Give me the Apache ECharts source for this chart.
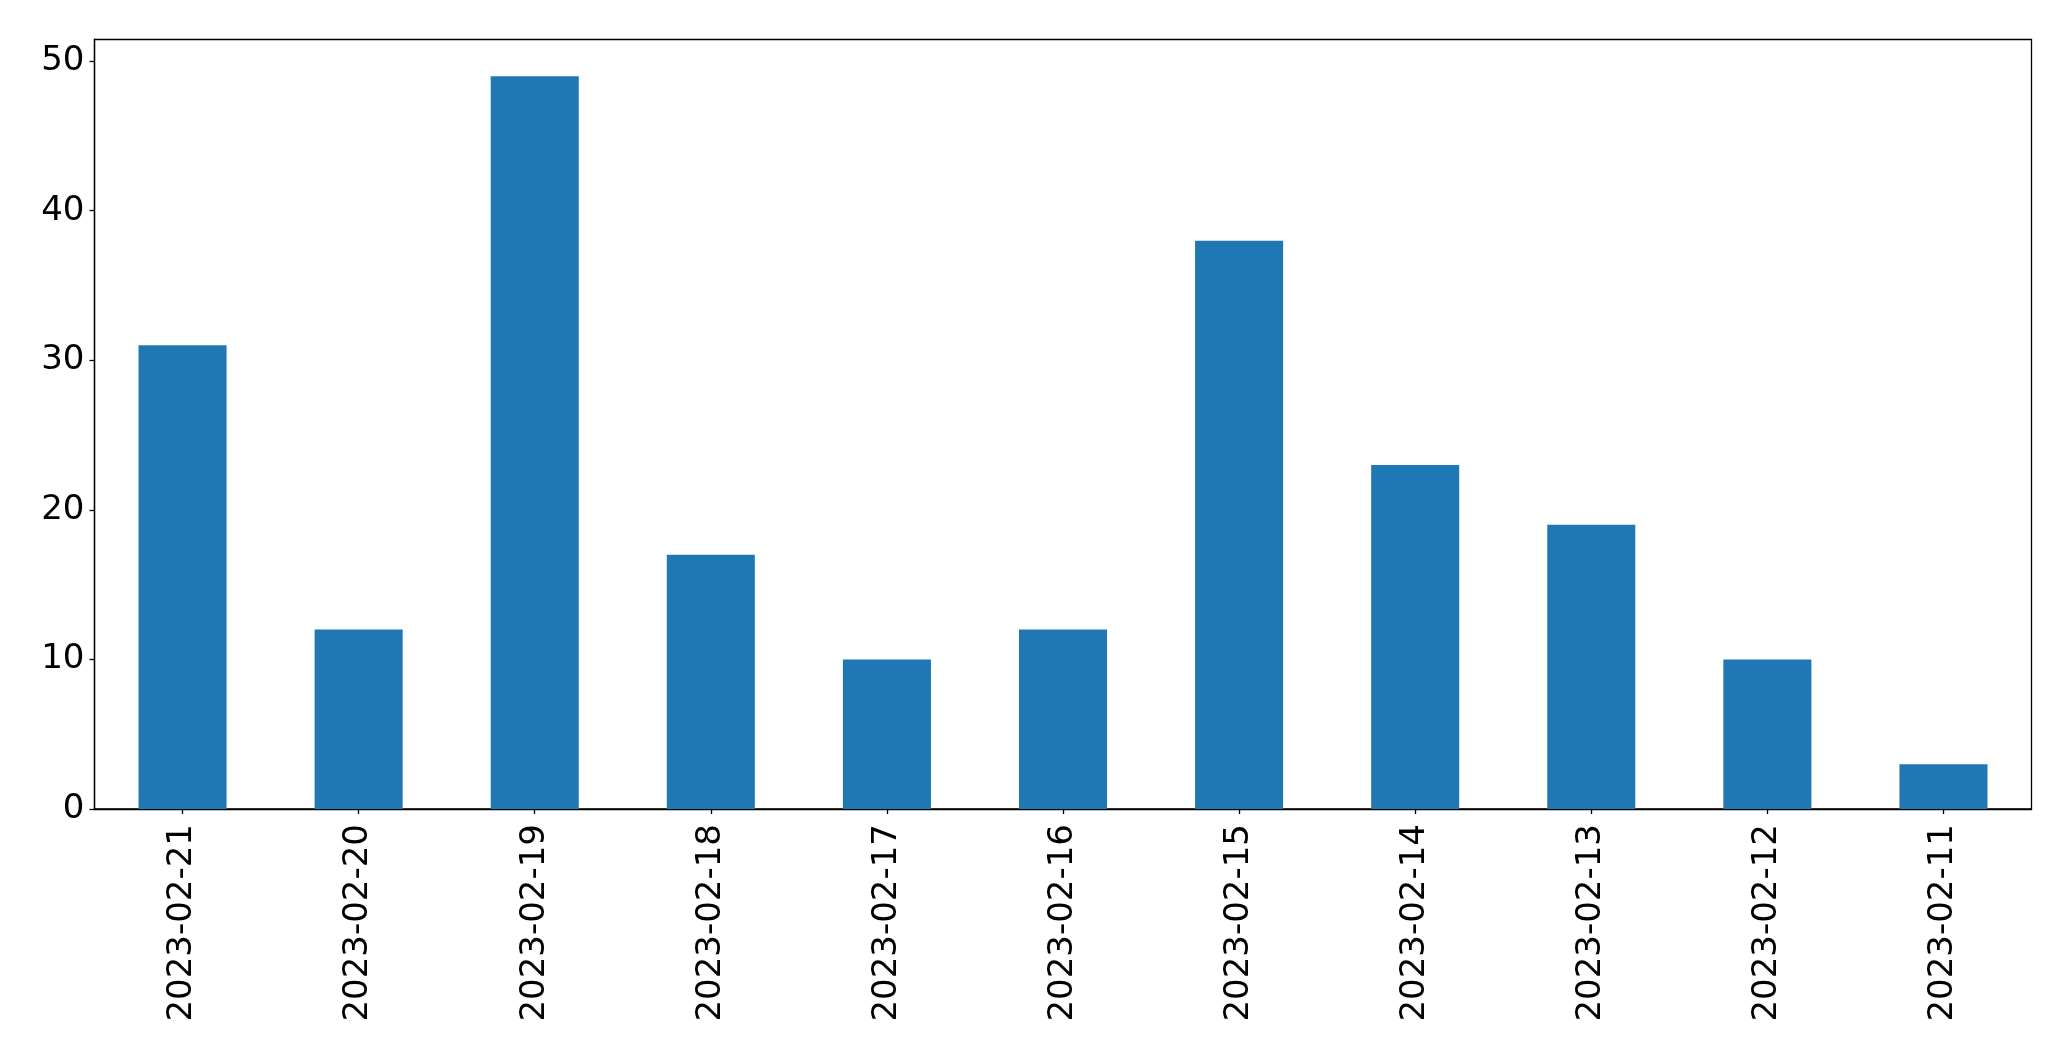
<!DOCTYPE html>
<html>
<head>
<meta charset="utf-8">
<script src="https://cdn.jsdelivr.net/npm/echarts@6/dist/echarts.min.js"></script>
<style>html,body{margin:0;padding:0;background:#fff}#c{width:2071px;height:1061px}</style>
</head>
<body>
<div id="c"></div>
<script>
const categories = ['2023-02-21','2023-02-20','2023-02-19','2023-02-18','2023-02-17','2023-02-16','2023-02-15','2023-02-14','2023-02-13','2023-02-12','2023-02-11'];
const values = [31, 12, 49, 17, 10, 12, 38, 23, 19, 10, 3];
const yTicks = [0, 10, 20, 30, 40, 50];

const chart = echarts.init(document.getElementById('c'), null, {renderer: 'canvas'});
const font = 'DejaVu Sans';
chart.setOption({
  animation: false,
  backgroundColor: '#fff',
  grid: {
    left: 94.5, right: 39.5, top: 39.5, bottom: 252,
    show: true, borderColor: '#000', borderWidth: 1.3, backgroundColor: 'transparent',
    outerBoundsMode: 'none'
  },
  xAxis: {
    type: 'category',
    data: categories,
    boundaryGap: true,
    axisLine: {show: true, lineStyle: {color: '#000', width: 1.3}},
    axisTick: {show: true, alignWithLabel: true, length: 5, lineStyle: {color: '#000', width: 1.3}},
    axisLabel: {rotate: 90, margin: 15, fontFamily: font, fontSize: 34, color: '#000', interval: 0}
  },
  yAxis: {
    type: 'value',
    min: 0, max: 51.45,
    splitLine: {show: false},
    axisLine: {show: true, lineStyle: {color: '#000', width: 1.3}},
    axisTick: {show: true, length: 5, customValues: yTicks, lineStyle: {color: '#000', width: 1.3}},
    axisLabel: {margin: 10, fontFamily: font, fontSize: 34, color: '#000', customValues: yTicks}
  },
  series: [{
    type: 'bar',
    data: values,
    barCategoryGap: '50%',
    itemStyle: {color: '#1f77b4'}
  }]
});
</script>
</body>
</html>
